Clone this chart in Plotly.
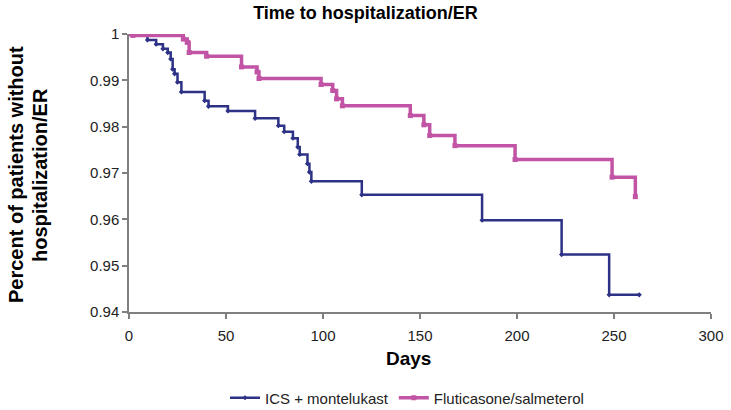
import plotly.graph_objects as go

# ICS + montelukast: step change points (day, proportion without event)
ics_days = [0, 9.5, 14, 17.5, 20, 21.5, 22.5, 23.5, 25, 27, 39, 41, 51, 65, 77, 80, 84.5,
            87, 88, 92, 93, 94, 120, 182, 223, 247.5, 263]
ics_vals = [1.0, 0.9987, 0.9978, 0.9968, 0.9960, 0.9946, 0.9924, 0.9914, 0.9896, 0.9875,
            0.9856, 0.9844, 0.9834, 0.9818, 0.9802, 0.9789, 0.9775, 0.9756, 0.9740,
            0.9720, 0.9702, 0.9682, 0.9653, 0.9598, 0.9524, 0.9437, 0.9437]

# Fluticasone/salmeterol
fs_days = [0, 2, 28, 30, 31, 40, 58, 66, 67, 99, 105, 107, 110, 145, 152, 155, 168,
           199, 249, 261]
fs_vals = [1.0, 0.9997, 0.9989, 0.9982, 0.9960, 0.9952, 0.9929, 0.9918, 0.9904, 0.9891,
           0.9878, 0.9860, 0.9845, 0.9824, 0.9804, 0.9781, 0.9759, 0.9729, 0.9691, 0.9649]

x_ticks = [0, 50, 100, 150, 200, 250, 300]
y_ticks = [0.94, 0.95, 0.96, 0.97, 0.98, 0.99, 1.0]
y_tick_text = ["0.94", "0.95", "0.96", "0.97", "0.98", "0.99", "1"]

BLUE = "#2D3286"
PINK = "#C154A5"
FONT = "Liberation Sans, Arial, sans-serif"

L, R, T, B = 129, 20, 34, 98
PW, PH = 731 - L - R, 410 - T - B

fig = go.Figure()
fig.add_trace(go.Scatter(
    x=ics_days, y=ics_vals, mode="lines+markers", name="ICS + montelukast",
    line=dict(color=BLUE, width=2.5, shape="hv"),
    marker=dict(symbol="diamond", size=4, color=BLUE),
))
fig.add_trace(go.Scatter(
    x=fs_days, y=fs_vals, mode="lines+markers", name="Fluticasone/salmeterol",
    line=dict(color=PINK, width=3.5, shape="hv"),
    marker=dict(symbol="square", size=5, color=PINK),
))

axis_common = dict(
    showgrid=False, zeroline=False, showline=True, linecolor="#808080", linewidth=1.5,
    ticks="outside", ticklen=5, tickcolor="#808080", tickwidth=1.5, automargin=False,
    tickfont=dict(family=FONT, size=15, color="#222222"),
)

fig.update_layout(
    width=731, height=410,
    margin=dict(l=L, r=R, t=T, b=B, autoexpand=False),
    paper_bgcolor="white", plot_bgcolor="white",
    font=dict(family=FONT, color="#000000"),
    title=dict(text="<b>Time to hospitalization/ER</b>", x=0.5, xref="container",
               y=1 - 13 / 410, yref="container", yanchor="middle", xanchor="center",
               font=dict(family=FONT, size=18, color="#000000")),
    xaxis=dict(range=[0, 300], tickvals=x_ticks, ticklabelstandoff=4, **axis_common),
    yaxis=dict(range=[0.94, 1.0], tickvals=y_ticks, ticktext=y_tick_text, **axis_common),
    showlegend=True,
    legend=dict(orientation="h", x=(407 - L) / PW, xanchor="center",
                y=(T + PH - 398) / PH, yanchor="middle",
                font=dict(family=FONT, size=15, color="#222222"),
                bgcolor="rgba(0,0,0,0)", itemwidth=30),
)

fig.add_annotation(text="<b>Days</b>", xref="paper", yref="paper",
                   x=(408 - L) / PW, y=(T + PH - 358) / PH,
                   showarrow=False, xanchor="center", yanchor="middle",
                   font=dict(family=FONT, size=19, color="#000000"))
fig.add_annotation(text="<b>Percent of patients without</b>", xref="paper", yref="paper",
                   x=(16 - L) / PW, y=(T + PH - 175) / PH, showarrow=False, textangle=-90,
                   xanchor="center", yanchor="middle",
                   font=dict(family=FONT, size=20, color="#000000"))
fig.add_annotation(text="<b>hospitalization/ER</b>", xref="paper", yref="paper",
                   x=(40 - L) / PW, y=(T + PH - 175) / PH, showarrow=False, textangle=-90,
                   xanchor="center", yanchor="middle",
                   font=dict(family=FONT, size=20, color="#000000"))

fig.write_html("out.html", config={"displayModeBar": False},
               post_script="document.body.style.margin='0';")
